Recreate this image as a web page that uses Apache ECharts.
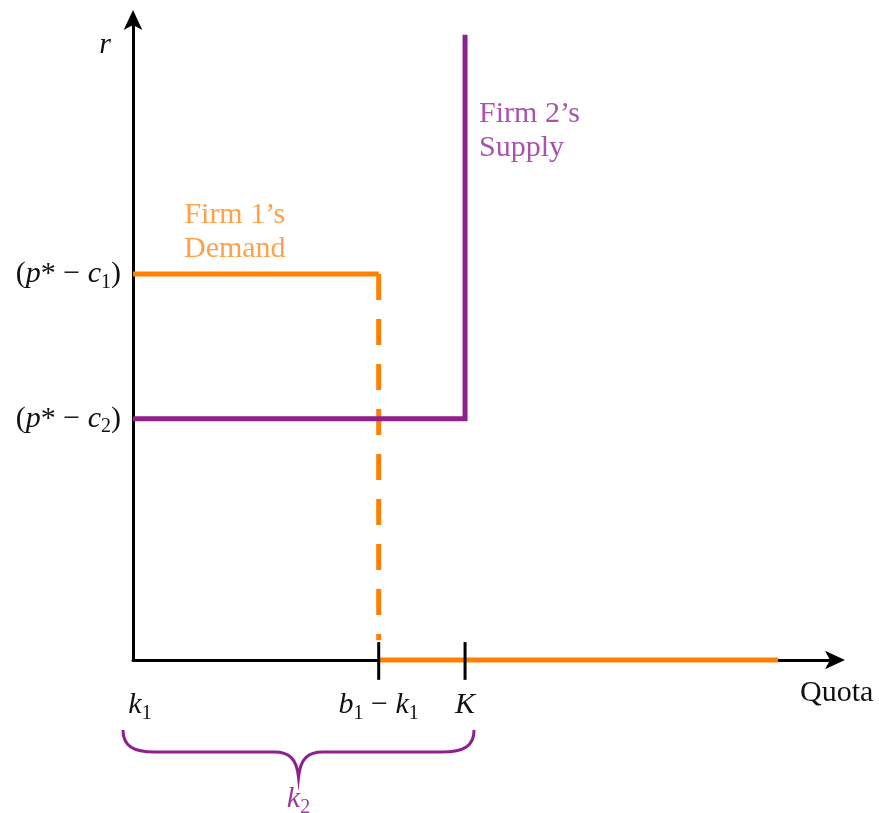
<!DOCTYPE html>
<html>
<head>
<meta charset="utf-8">
<style>
  html, body { margin: 0; padding: 0; background: #fff; }
  #chart { width: 879px; height: 813px; }
</style>
<script src="https://cdn.jsdelivr.net/npm/echarts@6/dist/echarts.min.js"></script>
</head>
<body>
<div id="chart"></div>
<script>
'use strict';

/* Quota market: Firm 1's demand vs Firm 2's supply */
const B1K1 = 35.0;      // b1 − k1
const K = 47.3;         // K
const QUOTA_END = 91.9; // end of demand along the axis
const R1 = 60.3;        // (p* − c1)
const R2 = 37.7;        // (p* − c2)
const SUPPLY_TOP = 97.7;

const demandFlat = [[0, R1], [B1K1, R1]];
const demandDrop = [[B1K1, R1], [B1K1, 3.1]];
const demandAxis = [[B1K1, 0], [QUOTA_END, 0]];
const supply = [[0, R2], [K, R2], [K, SUPPLY_TOP]];
const tickMarks = [B1K1, K];

const xTickValues = [0, B1K1, K];
const xTickLabels = ['{k1|k}{s|1}', '{i|b}{s|1}{n| − }{i|k}{s|1}', '{i|K}'];
const yTickValues = [R1, R2];
const yTickLabels = ['{n|(}{i|p}{n|* − }{i|c}{s|1}{n|)}', '{n|(}{i|p}{n|* − }{i|c}{s|2}{n|)}'];

const notes = [
  { value: [14.5, 66.9], text: 'Firm 1’s\nDemand', color: '#FF8A1A', align: 'center' },
  { value: [49.3, 82.7], text: 'Firm 2’s\nSupply', color: '#96269A', align: 'left' },
];

const ORANGE = '#FF8000';
const PURPLE = '#8F1F8C';
const SERIF = '"Liberation Serif", "DejaVu Serif", serif';

const rich = {
  n: { fontFamily: SERIF, fontSize: 30, lineHeight: 34, color: '#111' },
  i: { fontFamily: SERIF, fontSize: 30, lineHeight: 34, fontStyle: 'italic', color: '#111' },
  k1: { fontFamily: SERIF, fontSize: 30, lineHeight: 34, fontStyle: 'italic', color: '#111', padding: [0, 0, 0, 14] },
  s: { fontFamily: SERIF, fontSize: 20, lineHeight: 20, color: '#111', padding: [17, 0, 0, 0] },
};

const pick = (values, labels) => (v) => {
  const i = values.findIndex((x) => Math.abs(x - v) < 1e-6);
  return i < 0 ? '' : labels[i];
};

const seg = (data, color, extra) => Object.assign({
  type: 'line',
  data,
  symbol: 'none',
  clip: false,
  silent: true,
  animation: false,
  lineStyle: { color, width: 5, cap: 'butt', join: 'miter' },
}, extra || {});

const axisLine = {
  lineStyle: { color: '#000', width: 3 },
  symbol: ['none', 'arrow'],
  symbolSize: [14, 20],
  symbolOffset: [0, 10],
};

const chart = echarts.init(document.getElementById('chart'));

chart.setOption({
  backgroundColor: '#fff',
  animation: false,
  grid: { left: 133, top: 20, width: 702, height: 640, outerBoundsMode: 'none' },
  xAxis: {
    type: 'value',
    min: 0,
    max: 100,
    splitLine: { show: false },
    axisTick: { show: false },
    axisLine,
    axisLabel: {
      customValues: xTickValues,
      formatter: pick(xTickValues, xTickLabels),
      margin: 28,
      rich,
    },
    name: 'Quota',
    nameLocation: 'end',
    nameGap: -35,
    nameTextStyle: {
      fontFamily: SERIF, fontSize: 30, color: '#111',
      align: 'left', verticalAlign: 'top', padding: [18, 0, 0, 0],
    },
  },
  yAxis: {
    type: 'value',
    min: 0,
    max: 100,
    splitLine: { show: false },
    axisTick: { show: false },
    axisLine,
    axisLabel: {
      customValues: yTickValues,
      formatter: pick(yTickValues, yTickLabels),
      margin: 12,
      rich,
    },
    name: 'r',
    nameLocation: 'end',
    nameGap: -25,
    nameTextStyle: {
      fontFamily: SERIF, fontSize: 30, fontStyle: 'italic', color: '#111',
      align: 'right', verticalAlign: 'middle', padding: [0, 22, 0, 0],
    },
  },
  series: [
    seg(demandFlat, ORANGE),
    seg(demandDrop, ORANGE, { lineStyle: { color: ORANGE, width: 5, type: [26, 19], cap: 'butt' } }),
    seg(demandAxis, ORANGE),
    seg(supply, PURPLE),
    ...tickMarks.map((x) => seg([[x, -3.1], [x, 2.8]], '#000', { z: 5, lineStyle: { color: '#000', width: 3 } })),
    {
      type: 'scatter',
      symbolSize: 0,
      silent: true,
      data: notes.map((n) => ({
        value: n.value,
        label: {
          show: true,
          position: 'inside',
          formatter: n.text,
          align: n.align,
          color: n.color,
          fontFamily: SERIF,
          fontSize: 30,
          lineHeight: 34,
        },
      })),
    },
    {
      // k2 brace spanning k1 .. K below the axis
      type: 'custom',
      silent: true,
      clip: false,
      data: [[0, K]],
      renderItem: (params, api) => {
        const a = api.coord([api.value(0), 0]);
        const b = api.coord([api.value(1), 0]);
        const x0 = a[0] - 10;
        const x1 = b[0] + 9;
        const mid = (x0 + x1) / 2;
        const yT = a[1] + 70;
        const yH = yT + 22;
        const yP = yT + 47;
        const d = `M${x0} ${yT} C${x0} ${yH - 6} ${x0 + 10} ${yH} ${x0 + 32} ${yH}` +
          ` L${mid - 24} ${yH} C${mid - 10} ${yH} ${mid - 2} ${yH + 6} ${mid} ${yP}` +
          ` C${mid + 2} ${yH + 6} ${mid + 10} ${yH} ${mid + 24} ${yH}` +
          ` L${x1 - 32} ${yH} C${x1 - 10} ${yH} ${x1} ${yH - 6} ${x1} ${yT}`;
        return {
          type: 'group',
          children: [
            {
              type: 'path',
              shape: { pathData: d },
              style: { fill: 'none', stroke: PURPLE, lineWidth: 3 },
            },
            {
              type: 'text',
              x: mid,
              y: yP + 22,
              style: {
                text: '{i|k}{s|2}',
                align: 'center',
                verticalAlign: 'middle',
                rich: {
                  i: { fontFamily: SERIF, fontSize: 30, lineHeight: 34, fontStyle: 'italic', fill: '#9B3A98' },
                  s: { fontFamily: SERIF, fontSize: 20, lineHeight: 20, fill: '#9B3A98', padding: [17, 0, 0, 0] },
                },
              },
            },
          ],
        };
      },
    },
  ],
});
</script>
</body>
</html>
